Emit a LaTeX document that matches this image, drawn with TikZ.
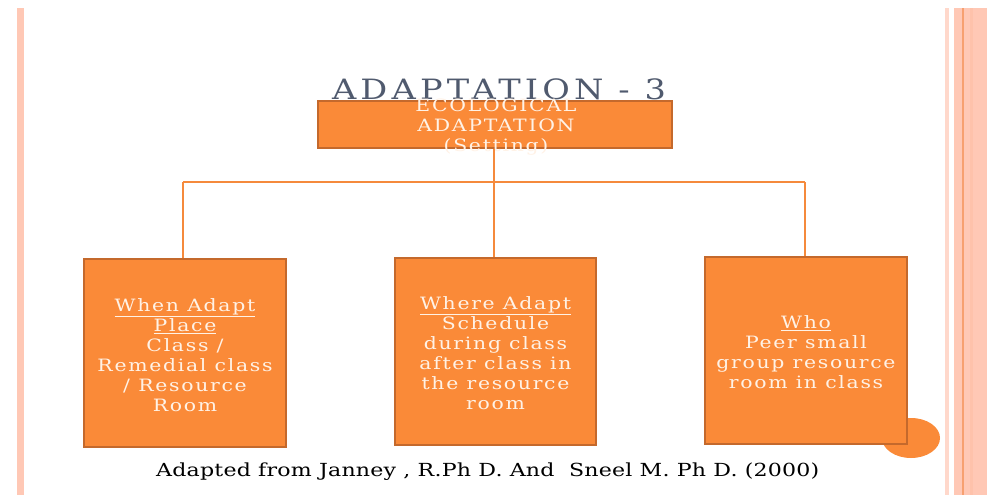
\documentclass[tikz,border=0pt]{standalone}
\usepackage{fontspec}
\setmainfont{DejaVu Serif}
\newfontfamily\titlefont[FakeStretch=1.2,LetterSpace=15]{DejaVu Serif}
\newfontfamily\boxfont[FakeStretch=1.2,LetterSpace=10]{DejaVu Serif}
\newfontfamily\footfont[FakeStretch=1.1,LetterSpace=1]{DejaVu Serif}
\definecolor{boxfill}{HTML}{FA8A38}
\definecolor{boxedge}{HTML}{C4692C}
\definecolor{linkcol}{HTML}{F58A3C}
\definecolor{strip}{HTML}{FFC8B5}
\definecolor{stripline}{HTML}{F7A070}
\definecolor{boxtxt}{HTML}{FFF2E6}
\definecolor{titlecol}{HTML}{505A6E}
\tikzset{
  panel/.style={rectangle, fill=boxfill, draw=boxedge, line width=1.5pt, inner sep=0pt},
  paneltext/.style={font=\boxfont\fontsize{17}{20}\selectfont, text=boxtxt, align=center, inner sep=0pt},
  link/.style={draw=linkcol, line width=1.3pt}
}
\begin{document}
\begin{tikzpicture}[x=1pt,y=-1pt]
\useasboundingbox (0,0) rectangle (995,495);
\fill[white] (0,0) rectangle (995,495);
% side decoration
\fill[strip] (17,8) rectangle (24,495);
\fill[strip!70] (945,8) rectangle (949,495);
\fill[strip] (954,8) rectangle (987,495);
\fill[stripline] (962,8) rectangle (964,495);
\fill[strip!85!stripline] (970,8) rectangle (973,495);
% title
\node[font=\titlefont\fontsize{28}{28}\selectfont, text=titlecol, anchor=base, inner sep=0pt] (title) at (499,99.5) {ADAPTATION - 3};
% top box
\node[panel, minimum width=354pt, minimum height=47pt] (top) at (495,124.5) {};
\node[paneltext] (toptext) at (496,127) {ECOLOGICAL\\ADAPTATION\\(Setting)};
% decorative dot
\fill[boxfill] (911,438) ellipse [x radius=29, y radius=20];
% lower boxes
\node[panel, minimum width=202pt, minimum height=188pt] (b1) at (185,353) {};
\node[paneltext] (t1) at (185,355) {\underline{When Adapt}\\\underline{Place}\\Class /\\Remedial class\\/ Resource\\Room};
\node[panel, minimum width=201pt, minimum height=187pt] (b2) at (495.5,351.5) {};
\node[paneltext] (t2) at (495.5,353) {\underline{Where Adapt}\\Schedule\\during class\\after class in\\the resource\\room};
\node[panel, minimum width=202pt, minimum height=187pt] (b3) at (806,350.5) {};
\node[paneltext] (t3) at (806,352) {\underline{Who}\\Peer small\\group resource\\room in class};
% connectors
\coordinate (busL) at (183,182);
\coordinate (busM) at (494,182);
\coordinate (busR) at (805,182);
\path[link] (busL) -- (busR);
\path[link] (top.south -| busM) -- (busM);
\path[link] (busL) -- (busL |- b1.north);
\path[link] (busM) -- (busM |- b2.north);
\path[link] (busR) -- (busR |- b3.north);
% source line
\node[font=\footfont\fontsize{18}{20}\selectfont, anchor=base west, inner sep=0pt] (src) at (156,476) {\scalebox{1.117}[1]{Adapted from Janney , R.Ph D. And\ \ Sneel M. Ph D. (2000)}};
\end{tikzpicture}
\end{document}
